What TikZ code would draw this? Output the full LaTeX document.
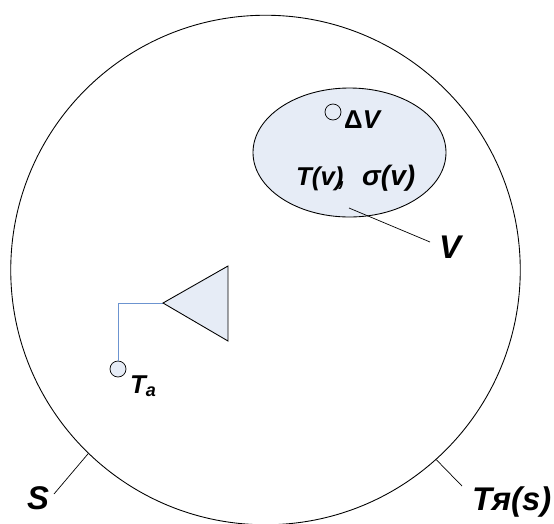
\documentclass[tikz,border=0pt]{standalone}
\usepackage{fontspec}
\setmainfont{Liberation Sans}
\usepackage{xcolor}
\usetikzlibrary{positioning,shapes.geometric}
\definecolor{paleblue}{HTML}{E6ECF6}
\definecolor{wireblue}{HTML}{6C94D0}
\tikzset{
  outline/.style={draw=black, line width=0.75pt},
  region/.style={outline, fill=paleblue, ellipse, inner sep=0pt},
  probe/.style={draw=black, line width=0.6pt, circle, inner sep=0pt, minimum size=0.48cm},
  wedge/.style={outline, fill=paleblue, line join=miter},
  wire/.style={draw=wireblue, line width=0.8pt},
  leader/.style={draw=black, line width=0.6pt},
  biglabel/.style={font=\fontsize{28}{28}\selectfont\bfseries\itshape, inner sep=0pt},
  midlabel/.style={font=\fontsize{22}{22}\selectfont\bfseries\itshape, inner sep=0pt},
}
\begin{document}
\begin{tikzpicture}[x=0.03cm,y=-0.03cm]
  \useasboundingbox (0,0) rectangle (554,523);
  % outer body
  \node[outline, circle, inner sep=0pt, minimum size=15.285cm] (body) at (265.5,270) {};
  \node[biglabel, anchor=base] (S) at (38,509) {S};
  \node[biglabel, anchor=base west] (Ts) at (472,510) {Тя(s)};
  \coordinate (Sfoot) at (54,494);
  \coordinate (Tsfoot) at (462,486);
  \draw[leader] (body.226.7) -- (Sfoot);
  \draw[leader] (body.312.4) -- (Tsfoot);
  % inner volume
  \node[region, minimum width=5.79cm, minimum height=3.87cm] (vol) at (349.5,152.5) {};
  \node[probe] (dV) at (333,112) {};
  \node[midlabel, anchor=base west] (dVtext) at (344,128) {{\upshape Δ}V};
  \node[midlabel, anchor=base west] (Tv) at (296,185) {T(v)\hspace{-0.2em},};
  \node[midlabel, anchor=base west] (sv) at (362,185) {\fontsize{24}{24}\selectfont σ(v)};
  \node[biglabel] (V) at (450,247) {V};
  \coordinate (Vin) at (349,208);
  \coordinate (Vfoot) at (430,242);
  \draw[leader] (Vin) -- (Vfoot);
  % source
  \coordinate (apex) at (163,303);
  \coordinate (up) at (228,266);
  \coordinate (down) at (228,341);
  \node[probe, fill=paleblue] (Ta) at (118,369) {};
  \draw[wire] (apex) -| (Ta);
  \draw[wedge] (apex) -- (up) -- (down) -- cycle;
  \node[midlabel, anchor=base west] (Talabel) at (130,393) {T\textsubscript{a}};
\end{tikzpicture}
\end{document}
